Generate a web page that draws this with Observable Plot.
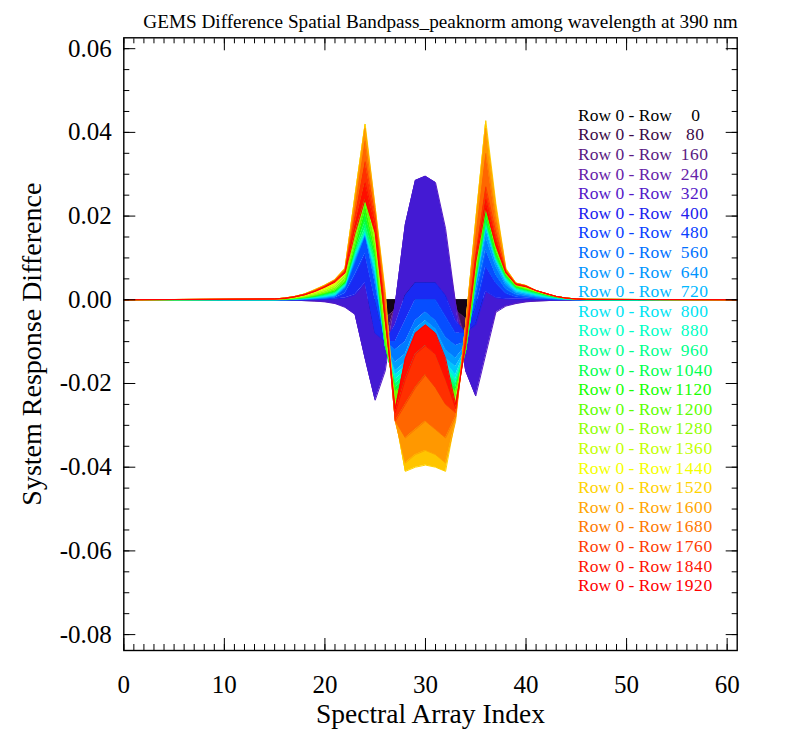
<!DOCTYPE html>
<html><head><meta charset="utf-8">
<script src="https://cdn.jsdelivr.net/npm/d3@7"></script>
<script src="https://cdn.jsdelivr.net/npm/@observablehq/plot@0.6"></script>
<style>
body{margin:0;background:#fff;}
#wrap{position:relative;width:798px;height:736px;font-family:"Liberation Serif","Times New Roman",serif;}
#legend{position:absolute;left:578px;top:105.9px;font-size:17.5px;line-height:19.6px;white-space:pre;}
#legend span.n{display:inline-block;letter-spacing:0.6px;}
</style></head><body><div id="wrap"><div id="legend"></div></div>
<script>
// ---- data ----
const rowNumbers = [0,80,160,240,320,400,480,560,640,720,800,880,960,1040,1120,1200,1280,1360,1440,1520,1600,1680,1760,1840,1920];
const rowColors = ["#000000","#3c0a48","#5a1a82","#6622a8","#5418c8","#2020ee","#0840ff","#0070ff","#0094ff","#00b8ff","#00e4f4","#00ffc4","#00ff8c","#00ff50","#18ff00","#5cff00","#90ff00","#c4ff00","#f4ff00","#ffd200","#ffa600","#ff7800","#ff3c00","#ff1400","#ff0000"];
const spectralIndex = [15,16,17,18,19,20,21,22,23,24,25,26,27,28,29,30,31,32,33,34,35,36,37,38,39,40,41,42,43,44,45,46];
const flatEnds = [0, 61];
const diffRow0    = [0,0,0,0,0,0,0,0,0,0,0,0,0,0,0,0,0,0,0,0,0,0,0,0,0,0,0,0,0,0,0,0];
const diffRow80   = [0,0,0,0,0,-0.0001,-0.0002,-0.0004,-0.0009,-0.0035,-0.006,-0.0045,-0.0025,0.003,0.0068,0.0074,0.0068,0.003,-0.0025,-0.0045,-0.0058,-0.0033,-0.0008,-0.0004,-0.0002,-0.0001,0,0,0,0,0,0];
const diffRow160  = [0,0,0,-0.0001,-0.0002,-0.0003,-0.0005,-0.001,-0.002,-0.0077,-0.0132,-0.0095,-0.0015,0.0085,0.0157,0.0162,0.0154,0.0085,-0.0015,-0.0095,-0.0127,-0.0072,-0.0017,-0.0008,-0.0005,-0.0003,-0.0002,-0.0001,0,0,0,0];
const diffRow240  = [0,0,-0.0001,-0.0002,-0.0003,-0.0004,-0.0008,-0.0015,-0.003,-0.012,-0.0205,-0.0145,-0.001,0.0145,0.024,0.025,0.0238,0.014,-0.001,-0.0145,-0.0195,-0.011,-0.0026,-0.0013,-0.0008,-0.0004,-0.0003,-0.0002,-0.0001,0,0,0];
const diffRow320  = [0,0,-0.0001,-0.0002,-0.0003,-0.0005,-0.0009,-0.0018,-0.0035,-0.014,-0.024,-0.017,-0.001,0.018,0.0285,0.0295,0.028,0.017,-0.001,-0.017,-0.023,-0.013,-0.003,-0.0015,-0.0009,-0.0005,-0.0003,-0.0002,-0.0001,0,0,0];
const diffRow400  = [0,0,0,0,0,0.0001,0.0002,0.0004,0.0012,0.004,-0.008,-0.010,-0.006,0.001,0.004,0.004,0.004,0.001,-0.005,-0.008,-0.006,0.002,0.0005,0.0002,0.0001,0.0001,0,0,0,0,0,0];
const diffRow480  = [0,0,0,0,0.0001,0.0002,0.0004,0.0015,0.006,0.011,0.0,-0.010,-0.010,-0.005,0.0,0.0,0.0,-0.004,-0.008,-0.008,-0.002,0.008,0.004,0.0015,0.0006,0.0004,0.0002,0.0001,0,0,0,0];
const diffRow560  = [0,0,0,0.0001,0.0002,0.0004,0.0007,0.0027,0.009,0.016,0.004,-0.010,-0.012,-0.010,-0.005,-0.003,-0.005,-0.009,-0.011,-0.010,0.001,0.012,0.006,0.0025,0.0012,0.0008,0.0005,0.0003,0.0002,0.0001,0,0];
const diffRow640  = [0,0,0.0001,0.0002,0.0003,0.0005,0.0009,0.003,0.0095,0.0155,0.005,-0.011,-0.015,-0.013,-0.007,-0.005,-0.007,-0.012,-0.014,-0.011,0.003,0.015,0.008,0.0035,0.0016,0.0011,0.0007,0.0004,0.0002,0.0001,0,0];
const diffRow720  = [0,0,0.0001,0.0002,0.0004,0.0006,0.001,0.0032,0.010,0.016,0.006,-0.011,-0.017,-0.015,-0.009,-0.006,-0.009,-0.014,-0.016,-0.012,0.004,0.017,0.009,0.004,0.0019,0.0014,0.0009,0.0005,0.0003,0.0001,0,0];
const diffRow800  = [0,0.0001,0.0001,0.0003,0.0005,0.0008,0.0012,0.0034,0.0105,0.016,0.007,-0.011,-0.018,-0.016,-0.011,-0.008,-0.011,-0.015,-0.018,-0.012,0.004,0.018,0.0095,0.0045,0.0022,0.0017,0.0011,0.0007,0.0004,0.0002,0.0001,0];
const diffRow880  = [0,0.0001,0.0002,0.0004,0.0006,0.0009,0.0014,0.0036,0.011,0.0165,0.008,-0.011,-0.019,-0.017,-0.012,-0.010,-0.012,-0.016,-0.019,-0.012,0.005,0.018,0.0098,0.005,0.0025,0.0019,0.0013,0.0008,0.0005,0.0002,0.0001,0];
const diffRow960  = [0,0.0001,0.0002,0.0004,0.0007,0.0011,0.0017,0.0038,0.0115,0.017,0.009,-0.011,-0.020,-0.018,-0.014,-0.012,-0.014,-0.017,-0.020,-0.012,0.005,0.0185,0.010,0.0052,0.0027,0.0021,0.0015,0.0009,0.0005,0.0003,0.0001,0];
const diffRow1040 = [0.0001,0.0001,0.0003,0.0005,0.0008,0.0013,0.0019,0.004,0.012,0.0185,0.010,-0.011,-0.021,-0.019,-0.015,-0.014,-0.015,-0.018,-0.021,-0.012,0.005,0.019,0.0105,0.0055,0.0029,0.0023,0.0017,0.0011,0.0006,0.0003,0.0001,0];
const diffRow1120 = [0.0001,0.0001,0.0003,0.0006,0.0009,0.0015,0.0021,0.0042,0.0125,0.021,0.011,-0.010,-0.022,-0.020,-0.017,-0.016,-0.017,-0.019,-0.022,-0.012,0.006,0.0205,0.011,0.0058,0.0031,0.0025,0.0018,0.0012,0.0007,0.0004,0.0002,0.0001];
const diffRow1200 = [0.0001,0.0002,0.0004,0.0006,0.001,0.0016,0.0024,0.0045,0.0135,0.023,0.012,-0.010,-0.022,-0.021,-0.019,-0.018,-0.019,-0.020,-0.022,-0.012,0.006,0.0223,0.012,0.006,0.0033,0.0026,0.0019,0.0013,0.0008,0.0004,0.0002,0.0001];
const diffRow1280 = [0.0001,0.0002,0.0004,0.0007,0.0012,0.0019,0.0028,0.0052,0.0155,0.026,0.014,-0.008,-0.024,-0.024,-0.022,-0.021,-0.022,-0.024,-0.024,-0.011,0.008,0.026,0.014,0.0063,0.0035,0.0028,0.002,0.0013,0.0008,0.0004,0.0002,0.0001];
const diffRow1360 = [0.0001,0.0003,0.0005,0.0009,0.0015,0.0023,0.0033,0.006,0.018,0.030,0.016,-0.005,-0.026,-0.029,-0.028,-0.027,-0.028,-0.029,-0.026,-0.010,0.011,0.030,0.016,0.0066,0.0036,0.003,0.0021,0.0014,0.0008,0.0004,0.0002,0.0001];
const diffRow1440 = [0.0002,0.0003,0.0006,0.0011,0.0018,0.0028,0.0038,0.0066,0.021,0.036,0.019,-0.002,-0.027,-0.035,-0.034,-0.033,-0.034,-0.035,-0.027,-0.008,0.015,0.036,0.019,0.0068,0.0038,0.0032,0.0021,0.0014,0.0008,0.0004,0.0002,0.0001];
const diffRow1520 = [0.0002,0.0004,0.0008,0.0014,0.0024,0.0035,0.0048,0.0075,0.025,0.042,0.022,0.002,-0.028,-0.041,-0.040,-0.0395,-0.040,-0.041,-0.028,-0.006,0.019,0.0428,0.023,0.0075,0.004,0.0034,0.0022,0.0015,0.0008,0.0004,0.0002,0.0001];
const diffRow1600 = [0.0002,0.0004,0.0008,0.0014,0.0023,0.0034,0.0047,0.0073,0.024,0.041,0.022,0.001,-0.029,-0.039,-0.037,-0.036,-0.037,-0.039,-0.029,-0.006,0.018,0.041,0.022,0.0073,0.004,0.0034,0.0022,0.0015,0.0008,0.0004,0.0002,0.0001];
const diffRow1680 = [0.0002,0.0004,0.0008,0.0013,0.0022,0.0033,0.0046,0.0071,0.022,0.038,0.021,0.0,-0.029,-0.033,-0.031,-0.029,-0.031,-0.033,-0.028,-0.007,0.015,0.035,0.019,0.0071,0.0039,0.0033,0.0022,0.0015,0.0008,0.0004,0.0002,0.0001];
const diffRow1760 = [0.0002,0.0004,0.0007,0.0013,0.0021,0.0032,0.0045,0.0068,0.020,0.033,0.020,-0.003,-0.029,-0.025,-0.021,-0.018,-0.021,-0.025,-0.027,-0.009,0.011,0.027,0.016,0.0068,0.0038,0.0033,0.0022,0.0015,0.0008,0.0004,0.0002,0.0001];
const diffRow1840 = [0.0002,0.0003,0.0007,0.0012,0.002,0.0031,0.0044,0.0066,0.018,0.028,0.018,-0.004,-0.027,-0.019,-0.013,-0.011,-0.013,-0.019,-0.026,-0.010,0.010,0.024,0.014,0.0066,0.0037,0.0032,0.0022,0.0015,0.0008,0.0004,0.0002,0.0001];
const diffRow1920 = [0.0002,0.0003,0.0007,0.0012,0.002,0.003,0.0042,0.0064,0.016,0.024,0.016,-0.005,-0.026,-0.014,-0.008,-0.006,-0.008,-0.014,-0.025,-0.011,0.009,0.022,0.013,0.0064,0.0036,0.0031,0.0022,0.0014,0.0008,0.0004,0.0002,0.0001];
const yMajorTicks = [-0.08,-0.06,-0.04,-0.02,0,0.02,0.04,0.06];
const xMajorTicks = [0,10,20,30,40,50,60];
const titleText = "GEMS Difference Spatial Bandpass_peaknorm among wavelength at 390 nm";
const xTitle = "Spectral Array Index";
const yTitle = "System Response Difference";

// ---- build ----
const allRows = [diffRow0,diffRow80,diffRow160,diffRow240,diffRow320,diffRow400,diffRow480,diffRow560,diffRow640,diffRow720,diffRow800,diffRow880,diffRow960,diffRow1040,diffRow1120,diffRow1200,diffRow1280,diffRow1360,diffRow1440,diffRow1520,diffRow1600,diffRow1680,diffRow1760,diffRow1840,diffRow1920];
const xs = [flatEnds[0], ...spectralIndex, flatEnds[1]];
const full = r => [0, ...r, 0];
const yMinorTicks = d3.range(-16, 13).map(i => +(i * 0.005).toFixed(3));
const xMinorTicks = d3.range(0, 61);

const dataMarks = [];
dataMarks.push(Plot.line(xs.map((x, i) => ({x, y: full(allRows[0])[i]})), {x: "x", y: "y", stroke: rowColors[0], strokeWidth: 1}));
for (let k = 1; k < allRows.length; k++) {
  const lo = full(allRows[k - 1]), hi = full(allRows[k]);
  const band = xs.map((x, i) => ({x, lo: lo[i], hi: hi[i]}));
  const bandColor = d3.interpolateRgb(rowColors[k - 1], rowColors[k])(0.3);
  dataMarks.push(Plot.areaY(band, {x: "x", y1: "lo", y2: "hi", fill: bandColor}));
  dataMarks.push(Plot.line(band, {x: "x", y: "hi", stroke: rowColors[k], strokeWidth: 1}));
}

const blank = () => "";
const chart = Plot.plot({
  width: 798, height: 736,
  marginLeft: 123.3, marginRight: 61.3, marginTop: 37.3, marginBottom: 86,
  x: {domain: [0, 61]},
  y: {domain: [-0.0838, 0.0626]},
  style: {fontFamily: "Liberation Serif, Times New Roman, serif", color: "black", background: "white", overflow: "visible"},
  marks: [
    ...dataMarks,
    Plot.axisY(yMinorTicks, {anchor: "left", tickSize: -6, tickFormat: blank, label: null}),
    Plot.axisY(yMinorTicks, {anchor: "right", tickSize: -6, tickFormat: blank, label: null}),
    Plot.axisY(yMajorTicks, {anchor: "left", tickSize: -12, tickFormat: blank, label: null}),
    Plot.axisY(yMajorTicks, {anchor: "right", tickSize: -12, tickFormat: blank, label: null}),
    Plot.axisX(xMinorTicks, {anchor: "bottom", tickSize: -6, tickFormat: blank, label: null}),
    Plot.axisX(xMinorTicks, {anchor: "top", tickSize: -5, tickFormat: blank, label: null}),
    Plot.axisX(xMajorTicks, {anchor: "bottom", tickSize: -12, tickFormat: blank, label: null}),
    Plot.axisX(xMajorTicks, {anchor: "top", tickSize: -12, tickFormat: blank, label: null}),
    Plot.axisY(yMajorTicks, {anchor: "left", tickSize: 0, tickPadding: 12, fontSize: 25, tickFormat: d => d.toFixed(2), label: null}),
    Plot.axisX(xMajorTicks, {anchor: "bottom", tickSize: 0, tickPadding: 25, fontSize: 25, tickFormat: d => String(d), label: null}),
    Plot.frame({stroke: "black", strokeWidth: 1.4}),
    Plot.text([titleText], {frameAnchor: "top", dx: 10, dy: -23, fontSize: 19.2}),
    Plot.text([xTitle], {frameAnchor: "bottom", dy: 72.5, fontSize: 27.5}),
    Plot.text([yTitle], {frameAnchor: "left", textAnchor: "middle", dx: -92, rotate: -90, fontSize: 28})
  ]
});
document.getElementById("wrap").prepend(chart);

const legend = document.getElementById("legend");
rowNumbers.forEach((r, i) => {
  const s = String(r);
  const div = document.createElement("div");
  div.style.color = rowColors[i];
  const a = document.createElement("span");
  a.textContent = "Row 0 - Row";
  const n = document.createElement("span");
  n.className = "n";
  n.style.marginLeft = (3.5 + (4 - s.length) * 5.3) + "px";
  n.textContent = s;
  div.append(a, n);
  legend.append(div);
});
</script>
</body></html>
